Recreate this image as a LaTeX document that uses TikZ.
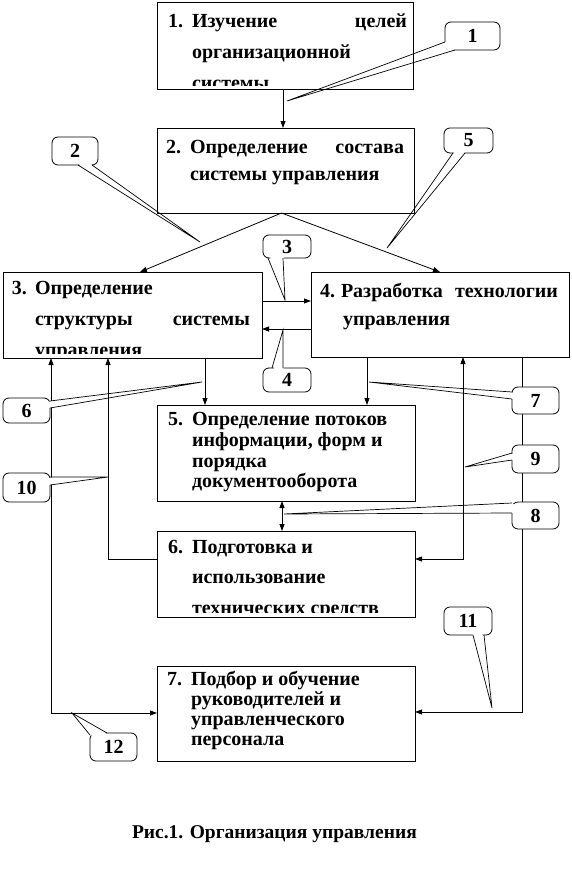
\documentclass[tikz,border=0pt]{standalone}
\usepackage{fontspec}
\setmainfont{Liberation Serif}
\usetikzlibrary{arrows.meta,calc}
\newcommand\tf{\fontsize{20}{22}\selectfont\bfseries}
\newcommand\cf{\fontsize{19.5}{21}\selectfont\bfseries}
\newcommand\calltail[4]{%
  \fill[white] ($(#1)!3pt!(#4)$) -- ($(#1)!5pt!(#3)$) -- ($(#2)!5pt!(#3)$) -- ($(#2)!3pt!(#4)$) -- cycle;
  \draw[tailline] (#1) -- (#3) -- (#2);}
\begin{document}
\begin{tikzpicture}[x=1pt,y=-1pt,
  box/.style={draw, line width=0.9pt, inner sep=0pt, outer sep=0pt},
  txt/.style={anchor=base west, inner sep=0pt, outer sep=0pt, font=\tf},
  arr/.style={line width=0.8pt, -{Triangle[length=7pt,width=5pt]}},
  darr/.style={line width=0.8pt, {Triangle[length=7pt,width=5pt]}-{Triangle[length=7pt,width=5pt]}},
  plain/.style={line width=0.8pt},
  callout/.style={draw, line width=0.8pt, rounded corners=6pt, fill=white, inner sep=0pt, outer sep=0pt, font=\tf},
  tailline/.style={line width=0.7pt}]

\useasboundingbox (0,0) rectangle (572,881);
\fill[white] (0,0) rectangle (572,881);

% boxes
\node[box, minimum width=256pt, minimum height=87pt] (b1) at (285,45.5) {};
\node[box, minimum width=257pt, minimum height=85pt] (b2) at (285.5,170.5) {};
\node[box, minimum width=259pt, minimum height=86pt] (b3) at (132.5,315) {};
\node[box, minimum width=258pt, minimum height=85pt] (b4) at (440,314.5) {};
\node[box, minimum width=258pt, minimum height=96pt] (b5) at (286,453) {};
\node[box, minimum width=258pt, minimum height=86pt] (b6) at (286,574) {};
\node[box, minimum width=258pt, minimum height=95pt] (b7) at (286,713.5) {};

% box texts
\begin{scope}
\clip (b1.north west) rectangle ([yshift=4pt]b1.south east);
\node[txt] (n1) at (168,27) {1.};
\node[txt] (t1a) at (192,27) {\hbox to 215pt{Изучение\hfill целей}};
\node[txt] (t1b) at (192,58) {организационной};
\node[txt] (t1c) at (192,89) {системы};
\end{scope}

\node[txt] (n2) at (166,153) {2.};
\node[txt] (t2a) at (190,153) {\hbox to 214pt{Определение\hfill состава}};
\node[txt] (t2b) at (190,180) {системы управления};

\begin{scope}
\clip (b3.north west) rectangle ([yshift=5pt]b3.south east);
\node[txt] (n3) at (12,294) {3.};
\node[txt] (t3a) at (35,294) {Определение};
\node[txt] (t3b) at (35,325) {\hbox to 215pt{структуры\hfill системы}};
\node[txt] (t3c) at (35,356) {управления};
\end{scope}

\node[txt] (n4) at (320,297) {4.};
\node[txt] (t4a) at (341,297) {\hbox to 217pt{Разработка\hfill технологии}};
\node[txt] (t4b) at (343,325) {управления};

\node[txt] (n5) at (168,425) {5.};
\node[txt] (t5a) at (192,425) {Определение потоков};
\node[txt] (t5b) at (192,446) {информации, форм и};
\node[txt] (t5c) at (192,467) {порядка};
\node[txt] (t5d) at (192,487) {документооборота};

\begin{scope}
\clip (b6.north west) rectangle ([yshift=5pt]b6.south east);
\node[txt] (n6) at (168,553) {6.};
\node[txt] (t6a) at (192,553) {Подготовка и};
\node[txt] (t6b) at (192,583) {использование};
\node[txt] (t6c) at (192,614) {технических средств};
\end{scope}

\node[txt] (n7) at (167,685) {7.};
\node[txt] (t7a) at (191,685) {Подбор и обучение};
\node[txt] (t7b) at (191,705) {руководителей и};
\node[txt] (t7c) at (191,725) {управленческого};
\node[txt] (t7d) at (191,745) {персонала};

% connectors
\draw[arr] ([xshift=-2pt]b1.south) -- ([xshift=-2.5pt]b2.north);
\draw[arr] ([xshift=-4pt]b2.south) -- ([xshift=137pt]b3.north west);
\draw[arr] ([xshift=-4pt]b2.south) -- ([xshift=129pt]b4.north west);
\draw[arr] ([yshift=-29pt]b3.north east) -- ([yshift=-29pt]b4.north west);
\draw[arr] ([yshift=-57pt]b4.north west) -- ([yshift=-57pt]b3.north east);
\draw[arr] ([xshift=202pt]b3.south west) -- ([xshift=48pt]b5.north west);
\draw[arr] ([xshift=56pt]b4.south west) -- ([xshift=210pt]b5.north west);
\draw[darr] ([xshift=125pt]b5.south west) -- ([xshift=125pt]b6.north west);
\draw[arr] ([yshift=-28pt]b6.north west) -| ([xshift=105pt]b3.south west);
\draw[darr] ([xshift=152pt]b4.south west) |- ([yshift=-28pt]b6.north east);
\draw[darr] ([yshift=-47pt]b7.north west) -| ([xshift=48pt]b3.south west);
\draw[arr] ([xshift=211pt]b4.south west) |- ([yshift=-46pt]b7.north east);

% callouts
\node[callout, minimum width=55pt, minimum height=28pt] (c1) at (472.5,36) {1};
\node[callout, minimum width=46pt, minimum height=28pt] (c2) at (75,151) {2};
\node[callout, minimum width=49pt, minimum height=25pt] (c5) at (468.5,140.5) {5};
\node[callout, minimum width=48pt, minimum height=23pt] (c3) at (287,246.5) {3};
\node[callout, minimum width=48pt, minimum height=24pt] (c4) at (287,380) {4};
\node[callout, minimum width=47pt, minimum height=25pt] (c6) at (26.5,410.5) {6};
\node[callout, minimum width=47pt, minimum height=29pt] (c10) at (26.5,487.5) {10};
\node[callout, minimum width=47pt, minimum height=27pt] (c7) at (535.5,400.5) {7};
\node[callout, minimum width=47pt, minimum height=28pt] (c9) at (535.5,459) {9};
\node[callout, minimum width=47pt, minimum height=27pt] (c8) at (535.5,515.5) {8};
\node[callout, minimum width=48pt, minimum height=28pt] (c11) at (468,621) {11};
\node[callout, minimum width=47pt, minimum height=28pt] (c12) at (113.5,747) {12};

% callout tails
\coordinate (c1a) at ([yshift=-6pt]c1.west);
\coordinate (c1b) at ([xshift=10pt]c1.south west);
\coordinate (p1) at (287,101);
\calltail{c1a}{c1b}{p1}{c1.center}

\coordinate (c2a) at ([xshift=26pt]c2.south west);
\coordinate (c2b) at ([xshift=40pt]c2.south west);
\coordinate (p2) at (200,242);
\calltail{c2a}{c2b}{p2}{c2.center}

\coordinate (c5a) at ([xshift=9pt]c5.south west);
\coordinate (c5b) at ([xshift=21pt]c5.south west);
\coordinate (p5) at (387,248);
\calltail{c5a}{c5b}{p5}{c5.center}

\coordinate (c3a) at ([xshift=5pt]c3.south west);
\coordinate (c3b) at ([xshift=20pt]c3.south west);
\coordinate (p3) at (285,300);
\calltail{c3a}{c3b}{p3}{c3.center}

\coordinate (c4a) at ([xshift=9pt]c4.north west);
\coordinate (c4b) at ([xshift=20pt]c4.north west);
\coordinate (p4) at (283,330);
\calltail{c4a}{c4b}{p4}{c4.center}

\coordinate (c6a) at ([yshift=-3pt]c6.north east);
\coordinate (c6b) at ([yshift=-10pt]c6.north east);
\coordinate (p6) at (202,382);
\calltail{c6a}{c6b}{p6}{c6.center}

\coordinate (c10a) at ([yshift=-4pt]c10.north east);
\coordinate (c10b) at ([yshift=-12pt]c10.north east);
\coordinate (p10) at (108,477);
\calltail{c10a}{c10b}{p10}{c10.center}

\coordinate (c7a) at ([yshift=-5pt]c7.north west);
\coordinate (c7b) at ([yshift=-12pt]c7.north west);
\coordinate (p7) at (369,382);
\calltail{c7a}{c7b}{p7}{c7.center}

\coordinate (c9a) at ([yshift=-8pt]c9.north west);
\coordinate (c9b) at ([yshift=-15pt]c9.north west);
\coordinate (p9) at (465,467);
\calltail{c9a}{c9b}{p9}{c9.center}

\coordinate (c8a) at ([yshift=-1pt]c8.north west);
\coordinate (c8b) at ([yshift=-11pt]c8.north west);
\coordinate (p8) at (284,514);
\calltail{c8a}{c8b}{p8}{c8.center}

\coordinate (c11a) at ([xshift=29pt]c11.south west);
\coordinate (c11b) at ([xshift=40pt]c11.south west);
\coordinate (p11) at (492,708);
\calltail{c11a}{c11b}{p11}{c11.center}

\coordinate (c12a) at ([yshift=-2pt]c12.north west);
\coordinate (c12b) at ([xshift=17pt]c12.north west);
\coordinate (p12) at (72,713);
\calltail{c12a}{c12b}{p12}{c12.center}

% caption
\node[txt, font=\cf] (cap) at (132,838) {Рис.1. Организация управления};
\end{tikzpicture}
\end{document}
